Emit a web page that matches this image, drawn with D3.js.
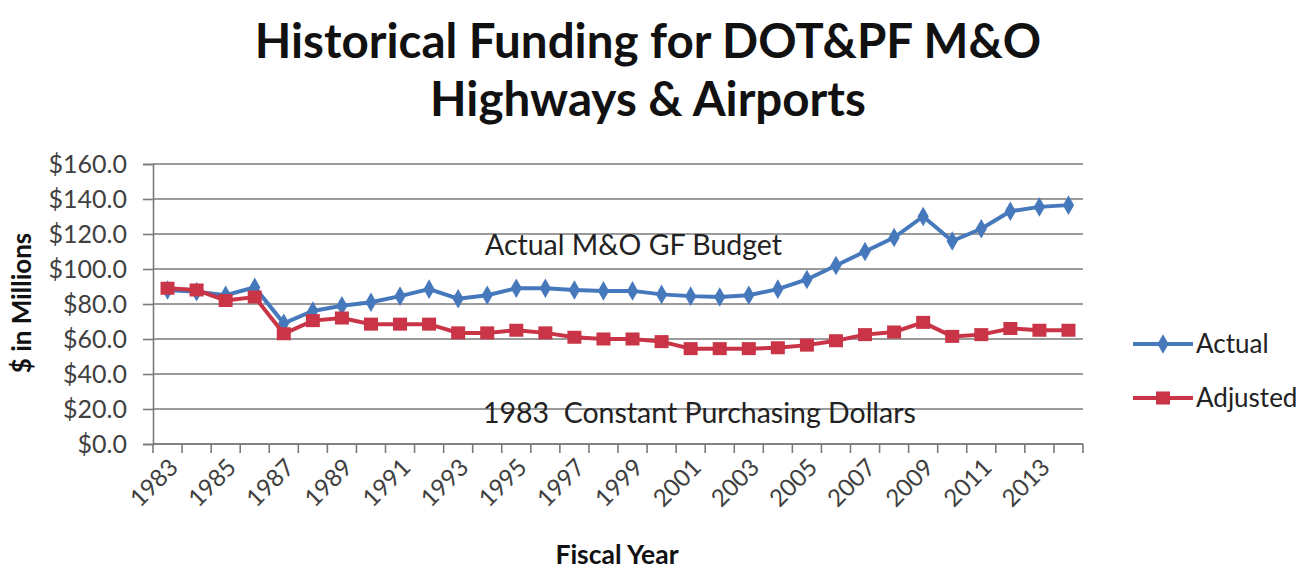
<!DOCTYPE html>
<html>
<head>
<meta charset="utf-8">
<script src="https://cdn.jsdelivr.net/npm/d3@7"></script>
<style>
  body { margin: 0; background: #fff; }
  text { font-family: Lato, "Open Sans", sans-serif; }
</style>
</head>
<body>
<figure id="chart" style="margin:0"></figure>
<script>
// fiscal years (categories)
var years = [1983, 1984, 1985, 1986, 1987, 1988, 1989, 1990, 1991, 1992, 1993,
             1994, 1995, 1996, 1997, 1998, 1999, 2000, 2001, 2002, 2003, 2004,
             2005, 2006, 2007, 2008, 2009, 2010, 2011, 2012, 2013, 2014];

// Actual M&O GF budget, $ millions
var actual = [88, 87, 85, 89.5, 69, 76, 79, 81, 84.5, 88.5, 83,
              85, 89, 89, 88, 87.5, 87.5, 85.5, 84.5, 84, 85, 88.5,
              94, 102, 110, 118, 130, 116, 123, 133, 135.5, 136.5];

// adjusted to 1983 constant purchasing dollars
var adjusted = [89, 88, 82, 84, 63, 70.5, 72, 68.5, 68.5, 68.5, 63.5,
                63.5, 65, 63.5, 61, 60, 60, 58.5, 54.5, 54.5, 54.5, 55,
                56.5, 59, 62.5, 64, 69.5, 61.5, 62.5, 66, 65, 65];

var yTicks = [0, 20, 40, 60, 80, 100, 120, 140, 160];
var xLabels = [1983, 1985, 1987, 1989, 1991, 1993, 1995, 1997, 1999, 2001,
               2003, 2005, 2007, 2009, 2011, 2013];

var W = 1302, H = 571;
var margin = {top: 164, right: 219, bottom: 127, left: 153},
    width = W - margin.left - margin.right,
    height = H - margin.top - margin.bottom;

var blue = "#4678bc", red = "#c93447";

var svg = d3.select("#chart")
  .append("svg")
    .attr("width", W)
    .attr("height", H);

// title
var title = svg.append("text")
  .attr("x", 648)
  .attr("text-anchor", "middle")
  .style("font-weight", "bold")
  .style("font-size", "47.5px")
  .attr("fill", "#111");
title.append("tspan").attr("x", 648).attr("y", 58).text("Historical Funding for DOT&PF M&O");
title.append("tspan").attr("x", 648).attr("y", 116).text("Highways & Airports");

var g = svg.append("g")
  .attr("transform", "translate(" + margin.left + "," + margin.top + ")");

var x = d3.scaleBand()
  .domain(years)
  .range([0, width])
  .paddingInner(0).paddingOuter(0);

var y = d3.scaleLinear()
  .domain([0, 160])
  .range([height, 0]);

var cx = function(d, i) { return x(years[i]) + x.bandwidth() / 2; };

// gridlines
g.append("g")
  .selectAll("line")
  .data(yTicks)
  .join("line")
    .attr("x1", 0).attr("x2", width)
    .attr("y1", d => y(d)).attr("y2", d => y(d))
    .attr("stroke", "#7a7a7a")
    .attr("stroke-width", 1.6);

// y axis
var yAxis = g.append("g")
  .call(d3.axisLeft(y)
    .tickValues(yTicks)
    .tickSize(10)
    .tickPadding(16)
    .tickFormat(d => "$" + d3.format(".1f")(d)));
yAxis.select(".domain").attr("stroke", "#7a7a7a").attr("stroke-width", 1.6);
yAxis.selectAll(".tick line").attr("stroke", "#7a7a7a").attr("stroke-width", 1.6);
yAxis.selectAll(".tick text")
  .style("font-size", "25px")
  .attr("fill", "#404040");

// x axis: ticks at category boundaries
var xAxis = g.append("g")
  .attr("transform", "translate(0," + height + ")");
xAxis.append("line")
  .attr("x1", 0).attr("x2", width)
  .attr("stroke", "#7a7a7a").attr("stroke-width", 1.6);
xAxis.selectAll("line.tk")
  .data(years.concat([null]))
  .join("line")
    .attr("class", "tk")
    .attr("x1", (d, i) => i < years.length ? x(d) : width)
    .attr("x2", (d, i) => i < years.length ? x(d) : width)
    .attr("y1", 0).attr("y2", 9)
    .attr("stroke", "#7a7a7a").attr("stroke-width", 1.6);
xAxis.selectAll("text")
  .data(xLabels)
  .join("text")
    .attr("transform", d => "translate(" + (x(d) + x.bandwidth() / 2 + 6) + ",19) rotate(-45)")
    .attr("text-anchor", "end")
    .attr("dy", "0.35em")
    .style("font-size", "24px")
    .attr("fill", "#404040")
    .text(d => d);

// axis titles
svg.append("text")
  .attr("transform", "translate(31,303) rotate(-90)")
  .attr("text-anchor", "middle")
  .style("font-weight", "bold")
  .style("font-size", "26px")
  .attr("fill", "#111")
  .text("$ in Millions");

svg.append("text")
  .attr("x", 617).attr("y", 564)
  .attr("text-anchor", "middle")
  .style("font-weight", "bold")
  .style("font-size", "26.5px")
  .attr("fill", "#111")
  .text("Fiscal Year");

// annotations
g.append("text")
  .attr("x", 332).attr("y", 255 - margin.top)
  .style("font-size", "28.5px")
  .attr("fill", "#222")
  .text("Actual M&O GF Budget");

g.append("text")
  .attr("x", 330).attr("y", 423 - margin.top)
  .style("font-size", "28.5px")
  .attr("fill", "#222")
  .attr("xml:space", "preserve")
  .text("1983  Constant Purchasing Dollars");

// lines
var line = d3.line()
  .x(cx)
  .y(d => y(d));

g.append("path")
  .datum(actual)
  .attr("fill", "none")
  .attr("stroke", blue)
  .attr("stroke-width", 4)
  .attr("d", line);

var diamond = d3.symbol().type(d3.symbolDiamond).size(110);
g.append("g")
  .selectAll("path")
  .data(actual)
  .join("path")
    .attr("d", diamond)
    .attr("transform", (d, i) => "translate(" + cx(d, i) + "," + y(d) + ")")
    .attr("fill", blue);

g.append("path")
  .datum(adjusted)
  .attr("fill", "none")
  .attr("stroke", red)
  .attr("stroke-width", 4)
  .attr("d", line);

g.append("g")
  .selectAll("rect")
  .data(adjusted)
  .join("rect")
    .attr("x", (d, i) => cx(d, i) - 7)
    .attr("y", d => y(d) - 6.5)
    .attr("width", 14)
    .attr("height", 13)
    .attr("fill", red);

// legend
var legend = svg.append("g");
var items = [
  {name: "Actual", color: blue, y: 344, shape: "diamond"},
  {name: "Adjusted", color: red, y: 398, shape: "square"}
];
items.forEach(function(it) {
  legend.append("line")
    .attr("x1", 1133).attr("x2", 1193)
    .attr("y1", it.y).attr("y2", it.y)
    .attr("stroke", it.color).attr("stroke-width", 4);
  if (it.shape == "diamond") {
    legend.append("path")
      .attr("d", diamond)
      .attr("transform", "translate(1163," + it.y + ")")
      .attr("fill", it.color);
  } else {
    legend.append("rect")
      .attr("x", 1156).attr("y", it.y - 6.5)
      .attr("width", 14).attr("height", 13)
      .attr("fill", it.color);
  }
  legend.append("text")
    .attr("x", 1196).attr("y", it.y)
    .attr("dy", "0.35em")
    .style("font-size", "26px")
    .attr("fill", "#222")
    .text(it.name);
});
</script>
</body>
</html>
